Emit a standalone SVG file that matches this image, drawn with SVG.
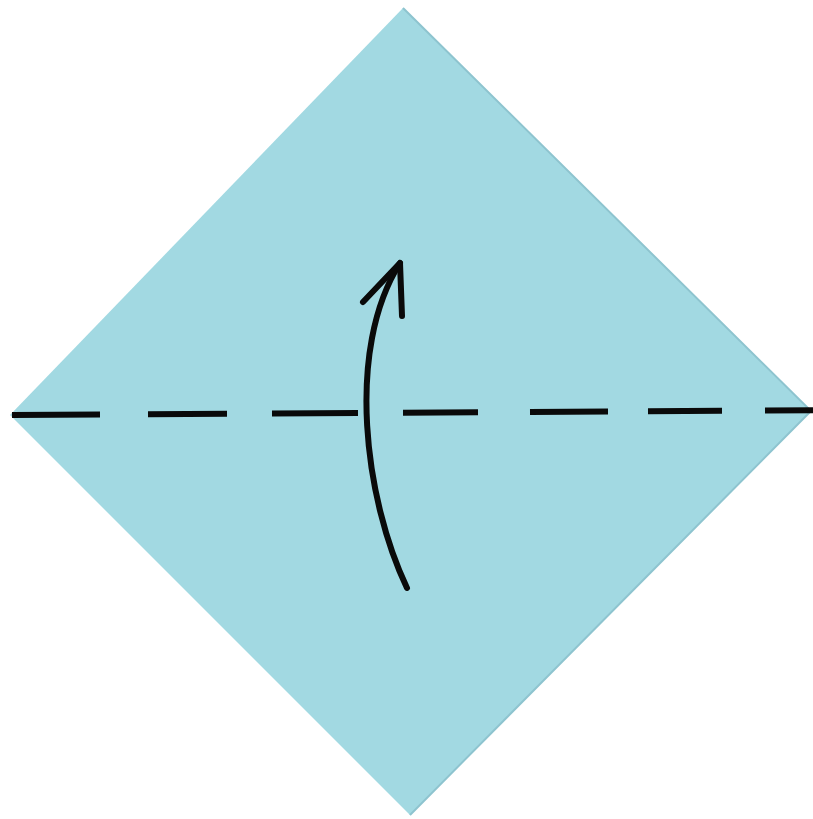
<svg xmlns="http://www.w3.org/2000/svg" width="813" height="819" viewBox="0 0 813 819">
<style>
.ink{fill:none;stroke:#0a0a0a;stroke-width:6;stroke-linecap:round;stroke-linejoin:round}
.dash{fill:none;stroke:#0a0a0a;stroke-width:6;stroke-linecap:butt}
</style>
<rect width="813" height="819" fill="#ffffff"/>
<g id="paper">
<polygon points="403,8 811,411 410,815 10,415" fill="#a2d9e2"/>
<polyline points="403,8 811,411 410,815" fill="none" stroke="#8ec4cf" stroke-width="2"/>
</g>
<g id="connectors">
<path class="dash" d="M12,415 L100,414.5 M148,414.2 L227,413.7 M272,413.4 L358,413 M403,412.7 L478,412.3 M530,412 L608,411.5 M648,411.3 L722,410.8 M765,410.5 L813,410.2"/>
<path d="M407,588 C365,500 345,350 400,263" class="ink"/>
<polyline points="363,302 400,263 402,316" class="ink"/>
</g>
</svg>
